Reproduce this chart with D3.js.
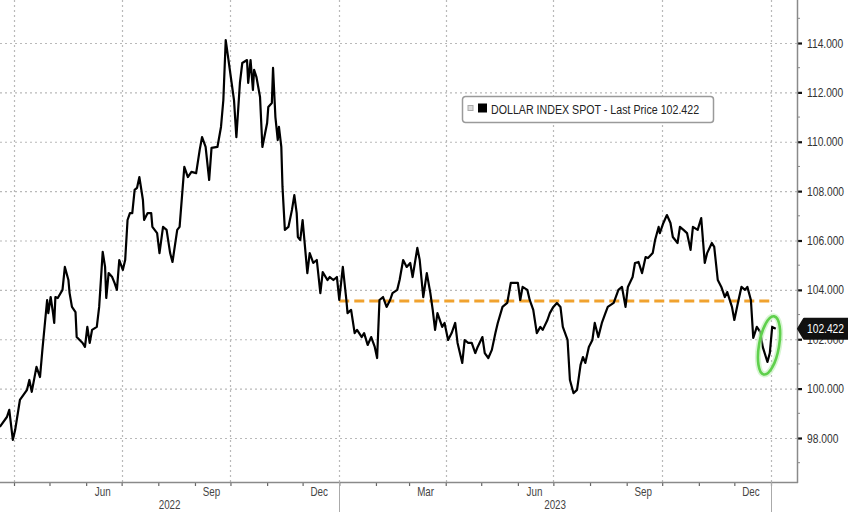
<!DOCTYPE html>
<html>
<head>
<meta charset="utf-8">
<script src="https://cdn.jsdelivr.net/npm/d3@7/dist/d3.min.js"></script>
<style>
  html, body { margin: 0; padding: 0; background: #fff; }
  svg { display: block; }
  text { font-family: "Liberation Sans", Arial, sans-serif; }
</style>
</head>
<body>
<svg id="chart" width="848" height="512"></svg>
<script>
// ---------------- DATA ----------------
const seriesName = "DOLLAR INDEX SPOT - Last Price 102.422";
const lastPrice = 102.422;
const referenceLevel = 103.55;
const referenceStart = "2023-01-01";
const referenceEnd = "2024-01-03";

const dates = [
"2022-03-20","2022-03-26","2022-03-28","2022-03-31","2022-04-02","2022-04-06","2022-04-12","2022-04-14","2022-04-16","2022-04-20",
"2022-04-23","2022-04-25","2022-04-29","2022-04-30","2022-05-02","2022-05-04","2022-05-05","2022-05-06","2022-05-08","2022-05-12",
"2022-05-14","2022-05-17","2022-05-18","2022-05-20","2022-05-23","2022-05-24","2022-05-29","2022-05-31","2022-06-02","2022-06-04",
"2022-06-06","2022-06-10","2022-06-12","2022-06-15","2022-06-17","2022-06-18","2022-06-20","2022-06-23","2022-06-25","2022-06-27",
"2022-06-29","2022-07-02","2022-07-04","2022-07-06","2022-07-08","2022-07-10","2022-07-12","2022-07-14","2022-07-16","2022-07-19",
"2022-07-20","2022-07-23","2022-07-26","2022-07-27","2022-07-31","2022-08-02","2022-08-05","2022-08-08","2022-08-11","2022-08-13",
"2022-08-17","2022-08-19","2022-08-23","2022-08-26","2022-08-29","2022-09-02","2022-09-05","2022-09-07","2022-09-10","2022-09-13",
"2022-09-15","2022-09-20","2022-09-23","2022-09-25","2022-09-27","2022-09-29","2022-10-02","2022-10-04","2022-10-06","2022-10-09",
"2022-10-11","2022-10-15","2022-10-16","2022-10-18","2022-10-20","2022-10-21","2022-10-23","2022-10-26","2022-10-28","2022-11-01",
"2022-11-02","2022-11-05","2022-11-06","2022-11-08","2022-11-10","2022-11-11","2022-11-13","2022-11-14","2022-11-16","2022-11-19",
"2022-11-22","2022-11-24","2022-11-26","2022-11-27","2022-11-29","2022-12-01","2022-12-05","2022-12-07","2022-12-10","2022-12-13",
"2022-12-16","2022-12-18","2022-12-22","2022-12-24","2022-12-27","2022-12-30","2023-01-01","2023-01-04","2023-01-07","2023-01-08",
"2023-01-11","2023-01-14","2023-01-16","2023-01-20","2023-01-22","2023-01-25","2023-01-28","2023-01-31","2023-02-02","2023-02-04",
"2023-02-07","2023-02-10","2023-02-13","2023-02-15","2023-02-19","2023-02-21","2023-02-24","2023-02-27","2023-03-02","2023-03-04",
"2023-03-08","2023-03-10","2023-03-13","2023-03-16","2023-03-19","2023-03-21","2023-03-23","2023-03-25","2023-03-29","2023-03-31",
"2023-04-03","2023-04-06","2023-04-09","2023-04-11","2023-04-15","2023-04-17","2023-04-20","2023-04-23","2023-04-26","2023-04-28",
"2023-05-02","2023-05-04","2023-05-07","2023-05-10","2023-05-13","2023-05-15","2023-05-19","2023-05-23","2023-05-26","2023-05-28",
"2023-06-01","2023-06-03","2023-06-05","2023-06-09","2023-06-11","2023-06-14","2023-06-17","2023-06-20","2023-06-22","2023-06-26",
"2023-06-28","2023-07-01","2023-07-04","2023-07-07","2023-07-09","2023-07-13","2023-07-15","2023-07-18","2023-07-21","2023-07-24",
"2023-07-26","2023-07-28","2023-07-31","2023-08-03","2023-08-05","2023-08-08","2023-08-11","2023-08-14","2023-08-16","2023-08-21",
"2023-08-25","2023-08-28","2023-08-31","2023-09-02","2023-09-06","2023-09-08","2023-09-11","2023-09-14","2023-09-17","2023-09-19",
"2023-09-23","2023-09-25","2023-09-28","2023-09-29","2023-10-02","2023-10-05","2023-10-08","2023-10-10","2023-10-14","2023-10-16",
"2023-10-19","2023-10-22","2023-10-25","2023-10-27","2023-10-31","2023-11-03","2023-11-06","2023-11-08","2023-11-12","2023-11-14",
"2023-11-17","2023-11-20","2023-11-23","2023-11-25","2023-11-29","2023-12-01","2023-12-04","2023-12-07","2023-12-10","2023-12-12",
"2023-12-15","2023-12-17","2023-12-20","2023-12-23","2023-12-25","2023-12-29","2023-12-31","2024-01-02","2024-01-05"
];
const values = [
98.45,98.85,99.14,97.92,98.33,99.54,99.95,100.35,99.87,100.88,
100.47,101.57,103.59,103.06,103.71,103.06,102.66,103.71,103.67,104.00,
104.93,104.40,103.87,103.31,103.10,102.09,101.85,101.69,102.50,101.85,
102.38,102.50,103.31,105.54,104.93,103.67,104.68,104.52,104.28,104.00,
105.21,104.81,105.21,106.83,107.11,107.11,108.05,108.13,108.57,107.64,
106.83,107.11,107.11,106.55,106.30,105.49,106.55,106.43,105.49,105.13,
106.43,106.55,108.98,108.57,108.78,108.73,109.67,110.19,109.79,108.45,
109.75,109.79,110.60,111.69,114.12,113.43,112.38,111.69,110.19,112.38,
113.19,113.31,112.38,113.31,112.10,112.91,112.62,111.81,109.79,110.76,
111.41,111.57,112.99,111.00,110.07,110.60,109.79,108.17,106.43,106.55,
107.24,107.84,107.11,106.14,106.02,106.83,104.68,105.49,105.09,105.21,
103.87,104.72,104.40,104.52,104.40,104.52,103.59,104.93,103.59,103.06,
103.19,102.25,102.38,102.09,102.25,101.77,102.09,101.69,101.24,103.59,
103.71,103.31,103.59,103.87,104.00,104.40,105.21,104.93,105.09,104.52,
105.70,105.21,103.71,104.68,103.87,103.19,102.38,103.06,102.50,102.66,
101.97,102.25,102.66,101.85,101.04,101.97,101.85,101.85,101.44,101.69,
102.09,101.44,101.24,101.57,102.25,102.66,103.31,103.47,104.28,104.28,
104.28,103.59,104.12,104.00,103.59,103.19,102.25,102.50,102.38,102.78,
103.06,103.31,103.47,103.31,102.50,101.97,100.35,99.82,99.95,100.96,
101.28,101.04,101.69,101.97,102.66,102.09,102.66,103.06,103.31,103.47,
104.00,104.12,103.31,104.12,104.52,105.09,105.13,104.68,105.33,105.29,
105.49,106.02,106.55,106.30,106.71,107.03,106.71,106.14,105.90,106.55,
106.43,106.30,105.62,106.55,106.43,106.91,105.09,105.49,105.90,105.74,
104.40,104.12,103.71,103.91,103.31,102.78,103.47,104.12,104.00,104.12,
103.59,102.05,102.50,102.29,101.69,101.08,101.44,102.50,102.422
];

const yTicks = [98, 100, 102, 104, 106, 108, 110, 112, 114];
const yMinorTicks = [97, 99, 101, 103, 105, 107, 109, 111, 113, 115];
const gridDates = ["2022-04-01","2022-07-01","2022-10-01","2023-01-01","2023-04-01","2023-07-01","2023-10-01","2024-01-01"];
const monthLabelDates = ["2022-06-15","2022-09-15","2022-12-15","2023-03-15","2023-06-15","2023-09-15","2023-12-15"];
const monthLabelTexts = ["Jun","Sep","Dec","Mar","Jun","Sep","Dec"];
const yearLabels = ["2022","2023"];
const yearStarts = ["2023-01-01","2024-01-01"];
const highlightStart = "2023-12-22";
const highlightEnd = "2024-01-06";

// ---------------- LAYOUT ----------------
const W = 848, H = 512;
const plotRight = 797, plotBottom = 482;
const NARROW = 0.82; // condense glyphs like a narrow terminal font
const parse = d3.timeParse("%Y-%m-%d");

// horizontally condense text around its anchor point
function condense(sel) {
  sel.each(function () {
    const t = d3.select(this);
    const ax = +(t.attr("x") || 0);
    t.attr("transform", `translate(${ax},0) scale(${NARROW},1) translate(${-ax},0)`);
  });
}

const x = d3.scaleTime()
  .domain([parse("2022-04-01"), parse("2024-01-01")])
  .range([14, 771]);
const y = d3.scaleLinear()
  .domain([98, 114])
  .range([438, 43]);

const data = dates.map((d, i) => ({ date: parse(d), value: values[i] }));

const svg = d3.select("#chart");

svg.append("defs").append("clipPath").attr("id", "plotclip")
  .append("rect").attr("x", 0).attr("y", 0).attr("width", plotRight).attr("height", plotBottom);

// Gridlines
const grid = svg.append("g");
grid.selectAll("line.h").data(yTicks).join("line")
  .attr("x1", 0).attr("x2", plotRight)
  .attr("y1", d => y(d) + 0.5).attr("y2", d => y(d) + 0.5)
  .attr("stroke", "#b9b9b9").attr("stroke-width", 1.2).attr("stroke-dasharray", "2,3");
grid.selectAll("line.v").data(gridDates).join("line")
  .attr("x1", d => Math.round(x(parse(d))) + 0.5).attr("x2", d => Math.round(x(parse(d))) + 0.5)
  .attr("y1", 0).attr("y2", plotBottom)
  .attr("stroke", "#b9b9b9").attr("stroke-width", 1.2).attr("stroke-dasharray", "2,3");

// Reference dashed line
svg.append("line")
  .attr("x1", x(parse(referenceStart))).attr("x2", x(parse(referenceEnd)))
  .attr("y1", y(referenceLevel)).attr("y2", y(referenceLevel))
  .attr("stroke", "#f0a22e").attr("stroke-width", 3).attr("stroke-dasharray", "10,5");

// Line
const line = d3.line().x(d => x(d.date)).y(d => y(d.value)).curve(d3.curveLinear);
svg.append("path").datum(data)
  .attr("clip-path", "url(#plotclip)")
  .attr("fill", "none").attr("stroke", "#000").attr("stroke-width", 2.2)
  .attr("stroke-linejoin", "round").attr("d", line);

// Highlight ellipse around the latest rebound
const lastSegment = data.filter(d => d.date >= parse(highlightStart) && d.date <= parse(highlightEnd));
const ex0 = x(parse(highlightStart)), ex1 = x(parse(highlightEnd));
const vmin = d3.min(lastSegment, d => d.value), vmax = d3.max(lastSegment, d => d.value);
const ecx = (ex0 + ex1) / 2 + 1, ecy = (y(vmin) + y(vmax)) / 2 + 1;
const ery = (y(vmin) - y(vmax)) / 2 + 12;
const g = svg.append("g").attr("transform", `translate(${ecx},${ecy}) rotate(10)`);
g.append("ellipse").attr("rx", 10).attr("ry", ery)
  .attr("fill", "none").attr("stroke", "#bdefb4").attr("stroke-width", 6).attr("opacity", 0.6);
g.append("ellipse").attr("rx", 10).attr("ry", ery)
  .attr("fill", "none").attr("stroke", "#5fd04c").attr("stroke-width", 2.6);

// Right axis
const yAxis = d3.axisRight(y).tickValues(yTicks).tickFormat(d3.format(".3f")).tickSize(5).tickPadding(5);
const ya = svg.append("g").attr("transform", `translate(${plotRight},0)`).call(yAxis);
ya.select(".domain").remove();
ya.selectAll(".tick line").attr("stroke", "#111").attr("stroke-width", 2.2);
ya.selectAll(".tick text").attr("fill", "#333").attr("font-size", 12.5)
  .attr("font-family", "'Liberation Sans', Arial, sans-serif").call(condense);
svg.append("g").selectAll("line").data(yMinorTicks).join("line")
  .attr("x1", plotRight).attr("x2", plotRight + 3)
  .attr("y1", d => y(d)).attr("y2", d => y(d))
  .attr("stroke", "#888").attr("stroke-width", 1);
svg.append("line").attr("x1", plotRight + 0.5).attr("x2", plotRight + 0.5)
  .attr("y1", 0).attr("y2", plotBottom + 1).attr("stroke", "#8a8a8a").attr("stroke-width", 1.5);

// Bottom axis
const xAxis = d3.axisBottom(x).ticks(d3.timeMonth.every(1)).tickFormat("").tickSize(4);
const xa = svg.append("g").attr("transform", `translate(0,${plotBottom})`).call(xAxis);
xa.select(".domain").remove();
xa.selectAll(".tick line").attr("stroke", "#666").attr("stroke-width", 1.2);
svg.append("line").attr("x1", 0).attr("x2", plotRight + 1)
  .attr("y1", plotBottom + 0.5).attr("y2", plotBottom + 0.5)
  .attr("stroke", "#8a8a8a").attr("stroke-width", 1.5);

svg.append("g").selectAll("text").data(monthLabelDates).join("text")
  .attr("x", d => x(parse(d))).attr("y", 496)
  .attr("text-anchor", "middle").attr("font-size", 12).attr("fill", "#444")
  .text((d, i) => monthLabelTexts[i]).call(condense);

svg.append("g").selectAll("line").data(yearStarts).join("line")
  .attr("x1", d => Math.round(x(parse(d))) + 0.5).attr("x2", d => Math.round(x(parse(d))) + 0.5)
  .attr("y1", plotBottom).attr("y2", H)
  .attr("stroke", "#aaa").attr("stroke-width", 1);

const yearCenters = [(0 + x(parse("2023-01-01"))) / 2, (x(parse("2023-01-01")) + x(parse("2024-01-01"))) / 2];
svg.append("g").selectAll("text").data(yearLabels).join("text")
  .attr("x", (d, i) => yearCenters[i]).attr("y", 509)
  .attr("text-anchor", "middle").attr("font-size", 12).attr("fill", "#444")
  .text(d => d).call(condense);

// Last price tag
const ty = y(lastPrice);
const tag = svg.append("g");
tag.append("path")
  .attr("d", `M${plotRight + 1},${ty} L${plotRight + 7},${ty - 10} L${W + 5},${ty - 10} L${W + 5},${ty + 10} L${plotRight + 7},${ty + 10} Z`)
  .attr("fill", "#111").attr("stroke", "#111").attr("stroke-linejoin", "round").attr("stroke-width", 2);
tag.append("text").attr("x", 807).attr("y", ty + 4.5)
  .attr("fill", "#fff").attr("font-size", 12.5).text(d3.format(".3f")(lastPrice)).call(condense);

// Legend
const lg = svg.append("g").attr("transform", "translate(462,96)");
lg.append("rect").attr("x", 0.5).attr("y", 0.5).attr("width", 251).attr("height", 26).attr("rx", 3)
  .attr("fill", "#fff").attr("stroke", "#9a9a9a").attr("stroke-width", 1.5);
lg.append("rect").attr("x", 6).attr("y", 9.5).attr("width", 5).attr("height", 5)
  .attr("fill", "#ddd").attr("stroke", "#aaa").attr("stroke-width", 1);
lg.append("rect").attr("x", 16).attr("y", 7.5).attr("width", 9).attr("height", 9).attr("fill", "#000");
lg.append("text").attr("x", 29).attr("y", 18.5).attr("font-size", 13).attr("fill", "#222")
  .text(seriesName).call(condense);
</script>
</body>
</html>
